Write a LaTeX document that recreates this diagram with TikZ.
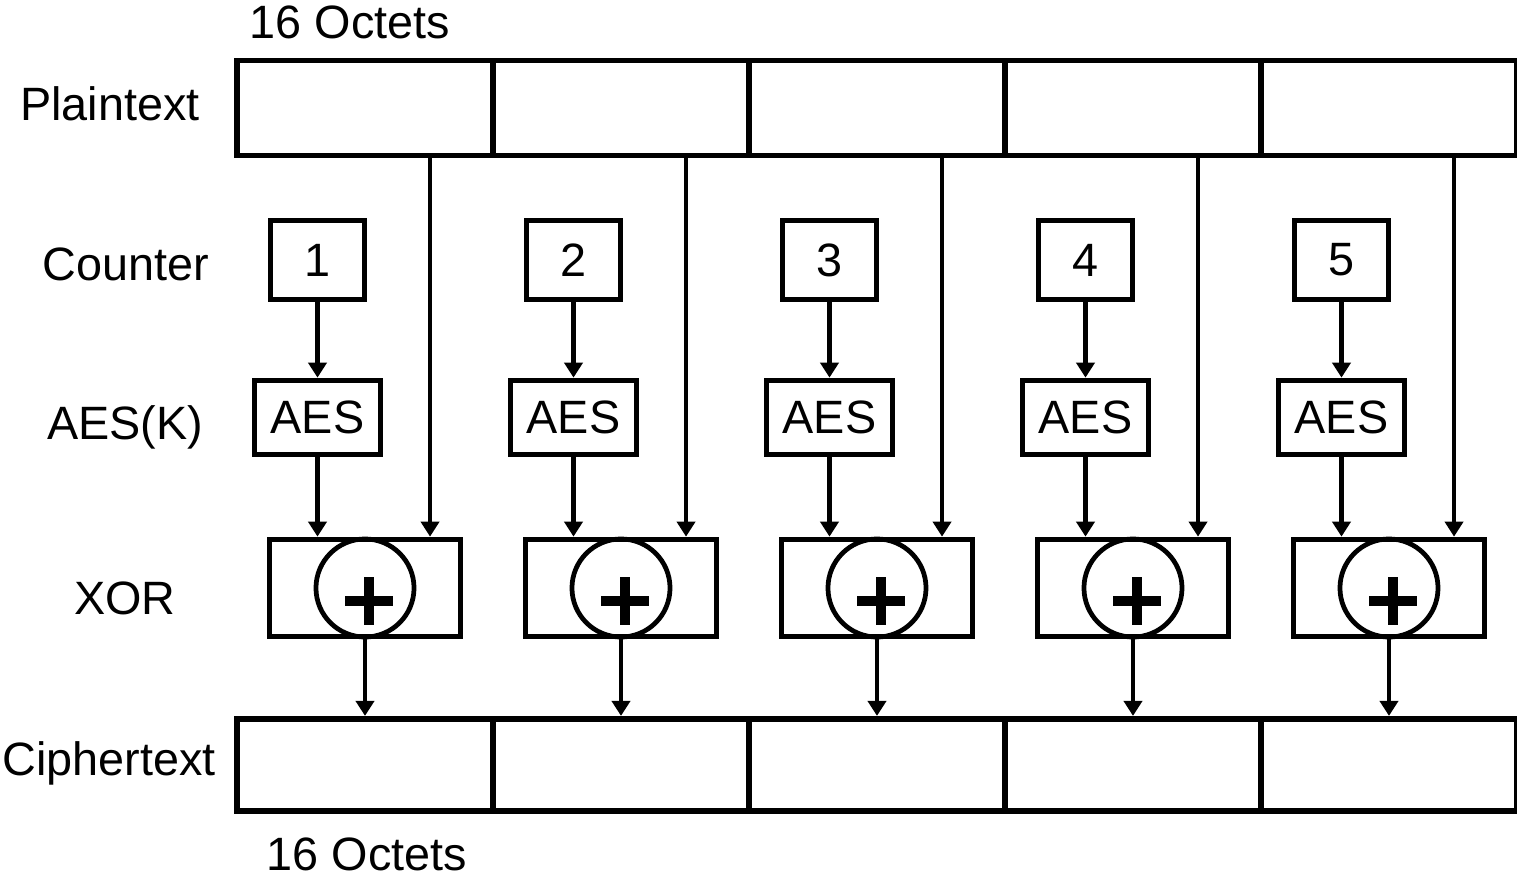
\documentclass[tikz,border=0pt]{standalone}
\usepackage{fontspec}
\setmainfont{Liberation Sans}
\usetikzlibrary{arrows.meta}
\newcommand{\lblfont}{\fontsize{13.3}{16}\selectfont}

\begin{document}
\begin{tikzpicture}[x=0.01cm,y=-0.01cm,
  blockbox/.style={draw,line width=1.6pt,minimum width=2.56cm,inner sep=0pt},
  ctrbox/.style={draw,line width=1.6pt,minimum width=0.94cm,minimum height=0.79cm,inner sep=0pt,font=\lblfont},
  aesbox/.style={draw,line width=1.6pt,minimum width=1.26cm,minimum height=0.74cm,inner sep=0pt,font=\lblfont},
  xorbox/.style={draw,line width=1.6pt,minimum width=1.91cm,minimum height=0.97cm,inner sep=0pt},
  xorring/.style={draw,circle,line width=1.35pt,minimum size=0.98cm,inner sep=0pt},
  rowlabel/.style={anchor=base,inner sep=0pt,font=\lblfont},
  flow/.style={line width=1.15pt,-{Triangle[length=0.15cm,width=0.18cm]}}]
\useasboundingbox (0,0) rectangle (1517,875);

% labels on the left and the block sizes
\node[rowlabel] (lblpt) at (110,120) {Plaintext};
\node[rowlabel] (lblctr) at (126,280) {Counter};
\node[rowlabel] (lblaes) at (125,439) {AES(K)};
\node[rowlabel] (lblxor) at (125,614) {XOR};
\node[rowlabel] (lblct) at (109,775) {Ciphertext};
\node[rowlabel] (sizetop) at (350,38) {16 Octets};
\node[rowlabel] (sizebot) at (367,870) {16 Octets};

% one column per block
\foreach \i in {1,...,5}{
  \pgfmathsetmacro{\xc}{365+256*(\i-1)}
  \node[blockbox,minimum height=0.95cm] (pt\i) at (\xc,108) {};
  \node[blockbox,minimum height=0.925cm] (ct\i) at (\xc,765) {};
  \node[ctrbox] (ctr\i) at (\xc-47.5,260) {\i};
  \node[aesbox] (aes\i) at (\xc-47.5,417.5) {AES};
  \node[xorbox] (xor\i) at (\xc,588) {};
  \node[xorring] (ring\i) at (\xc,588) {};
  \draw[line width=2.85pt] (\xc+4,577) -- (\xc+4,625) (\xc-20,601) -- (\xc+28,601);
  \draw[flow] (ctr\i) -- (aes\i);
  \draw[flow] (aes\i) -- (aes\i.south |- xor\i.north);
  \draw[flow] ([xshift=0.65cm]pt\i.south) -- ([xshift=0.65cm]xor\i.north);
  \draw[flow] (ring\i.south) -- (ct\i.north);
}
\end{tikzpicture}
\end{document}
